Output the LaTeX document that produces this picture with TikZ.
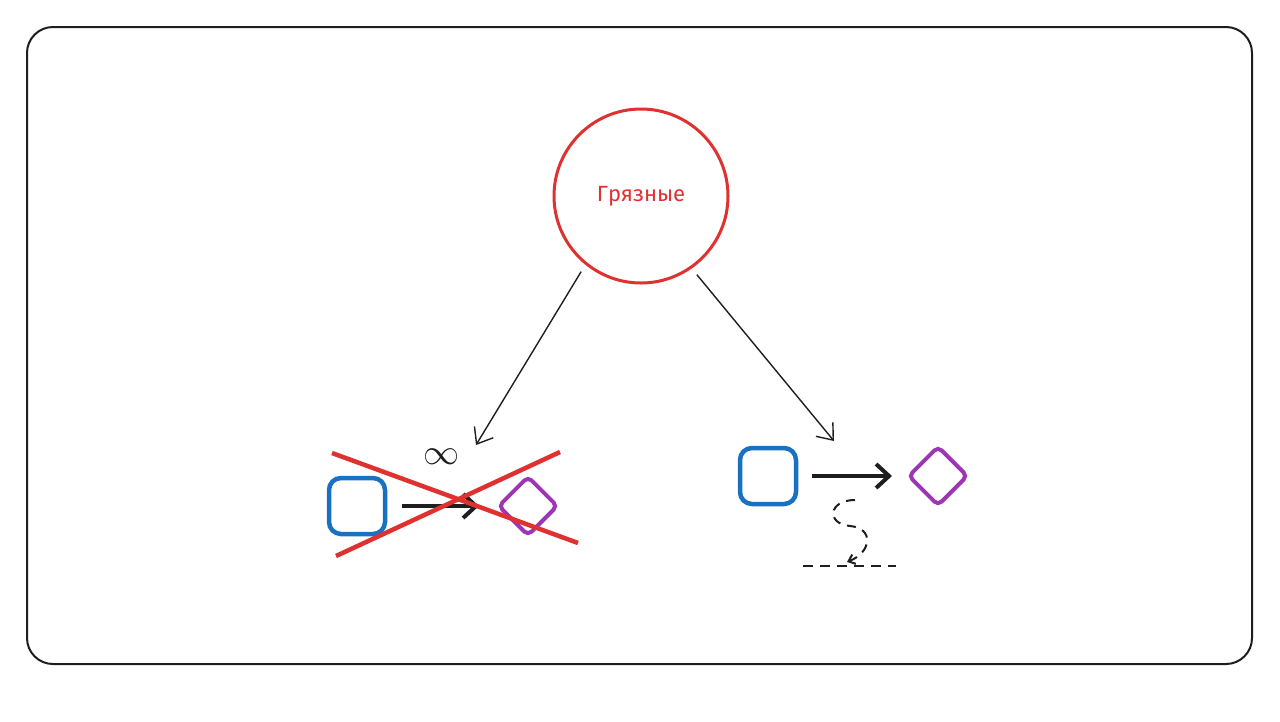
\documentclass[tikz,border=0pt]{standalone}
\usepackage{fontspec}
\newfontfamily\labelfont{Fira Sans}
\usetikzlibrary{arrows.meta}
\usetikzlibrary{shapes.geometric}
\definecolor{inkred}{HTML}{E03131}
\definecolor{inkblue}{HTML}{1971C2}
\definecolor{inkviolet}{HTML}{9C36B5}
\definecolor{ink}{HTML}{1E1E1E}
\tikzset{thin arrow/.style = {draw=ink, line width=1.4pt,
                              -{Straight Barb[length=14pt,width=22pt,line width=1.4pt]}}}
\tikzset{thick arrow/.style = {draw=ink, line width=4pt, shorten <=14pt, shorten >=14pt,
                               -{Straight Barb[length=13pt,width=24pt,line width=4pt]}}}
\tikzset{blockbox/.style = {draw=inkblue, line width=4.5pt, rectangle, rounded corners=12pt,
                            minimum size=56pt, inner sep=0pt}}
\tikzset{gatebox/.style = {draw=inkviolet, line width=4pt, diamond, rounded corners=5pt,
                           minimum size=60pt, inner sep=0pt}}
\tikzset{cross/.style = {draw=inkred, line width=4.5pt}}

\begin{document}
\begin{tikzpicture}[x=1pt, y=-1pt]
		\useasboundingbox (0, 0) rectangle (1280, 721);
		\draw [draw=ink, line width=2pt, rounded corners=26pt] (27, 27) rectangle (1252, 664);
		\node (dirty) at (641, 196) [circle, draw=inkred, line width=3pt, minimum size=174pt,
			text=inkred, font=\labelfont\fontsize{22}{22}\selectfont] {Грязные};
		% left: forbidden
		\node (leftblock) at (357, 506) [blockbox] {};
		\node (leftgate) at (528, 506) [gatebox] {};
		\node (inf) at (442, 457) [text=ink, scale=1.45, font=\fontsize{34}{34}\selectfont] {$\infty$};
		\coordinate (leftend) at (476, 445);
		% right: allowed
		\node (rightblock) at (768, 476) [blockbox] {};
		\node (rightgate) at (938, 476) [gatebox] {};
		\coordinate (rightend) at (834, 441);
		\coordinate (dropstart) at (855, 500);
		\coordinate (droptip) at (847, 562);
		\coordinate (floorleft) at (803, 566);
		\coordinate (floorright) at (896, 566);
		\coordinate (crossa) at (332, 453);
		\coordinate (crossb) at (578, 543);
		\coordinate (crossc) at (336, 556);
		\coordinate (crossd) at (560, 452);
		\draw [thin arrow, shorten <=8pt] (dirty.231) to (leftend);
		\draw [thin arrow, shorten <=8pt] (dirty.305) to (rightend);
		\draw [thick arrow, shorten <=15pt, shorten >=17pt] (leftblock.east) to (leftgate.west);
		\draw [thick arrow] (rightblock.east) to (rightgate.west);
		\draw [draw=ink, line width=2pt, dash pattern=on 9pt off 7pt,
			-{Straight Barb[length=6pt,width=10pt,line width=2pt]}]
			(dropstart) .. controls (828, 500) and (826, 524) .. (850, 526)
			.. controls (874, 528) and (872, 552) .. (droptip);
		\draw [draw=ink, line width=2pt, dash pattern=on 10pt off 7pt] (floorleft) to (floorright);
		\draw [cross] (crossa) to (crossb);
		\draw [cross] (crossc) to (crossd);
	\end{tikzpicture}
\end{document}
